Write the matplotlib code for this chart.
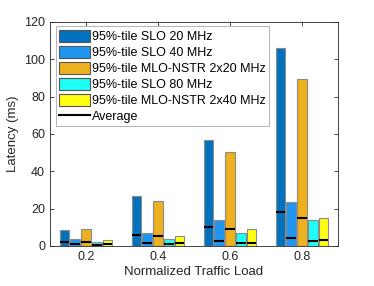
import numpy as np
import matplotlib
matplotlib.use('Agg')
import matplotlib.pyplot as plt
from matplotlib.lines import Line2D
from matplotlib.patches import Patch

plt.rcParams['font.family'] = ['Liberation Sans', 'DejaVu Sans']

loads = [0.2, 0.4, 0.6, 0.8]
labels = ['95%-tile SLO 20 MHz', '95%-tile SLO 40 MHz', '95%-tile MLO-NSTR 2x20 MHz',
          '95%-tile SLO 80 MHz', '95%-tile MLO-NSTR 2x40 MHz']
colors = ['#0072BD', '#1E96F0', '#EDB120', '#1EFFF5', '#FFFF14']

p95 = [
    [8.6, 27.0, 57.0, 106.0],
    [3.7, 6.8, 13.9, 23.7],
    [9.1, 24.0, 50.4, 89.3],
    [2.0, 3.7, 6.8, 13.9],
    [3.2, 5.4, 9.3, 15.2],
]
avg = [
    [2.1, 5.7, 10.2, 18.4],
    [1.0, 1.4, 2.5, 4.5],
    [2.1, 5.2, 9.1, 15.2],
    [0.8, 1.0, 1.5, 2.5],
    [1.0, 1.5, 1.8, 3.0],
]

fig = plt.figure(figsize=(3.74, 2.86), dpi=100)
ax = fig.add_axes([50/374, 40/286, 288/374, 224/286])

step = 0.0303
width = 0.0257
x = np.array(loads)
for i in range(5):
    xs = x + (i - 2) * step
    ax.bar(xs, p95[i], width=width, color=colors[i], edgecolor='#8a8a8a', linewidth=0.8, zorder=2)
    ax.hlines(avg[i], xs - width / 2, xs + width / 2, color='black', linewidth=1.5, zorder=3)

ax.set_xlim(0.1, 0.9)
ax.set_ylim(0, 120)
ax.set_xticks(loads)
ax.set_xticklabels(['0.2', '0.4', '0.6', '0.8'])
ax.set_yticks(range(0, 121, 20))
ax.tick_params(direction='in', top=True, right=True, labelsize=9, colors='#262626',
               length=3, width=0.6)
for s in ax.spines.values():
    s.set_color('#262626')
    s.set_linewidth(0.6)
ax.set_xlabel('Normalized Traffic Load', fontsize=9.5, color='#262626', labelpad=2)
ax.set_ylabel('Latency (ms)', fontsize=9.5, color='#262626', labelpad=4)

handles = [Patch(facecolor=c, edgecolor='#555555', linewidth=0.8) for c in colors]
handles.append(Line2D([0], [0], color='black', linewidth=1.5))
leg = ax.legend(handles, labels + ['Average'], loc='upper left', fontsize=9,
                bbox_to_anchor=(0.02, 0.98), borderaxespad=0, handlelength=2.5,
                handleheight=1.1, handletextpad=0.15, labelspacing=0.22, borderpad=0.25,
                fancybox=False, framealpha=1, edgecolor='#aaaaaa')
leg.get_frame().set_linewidth(0.6)

fig.savefig('out.png', dpi=100)
